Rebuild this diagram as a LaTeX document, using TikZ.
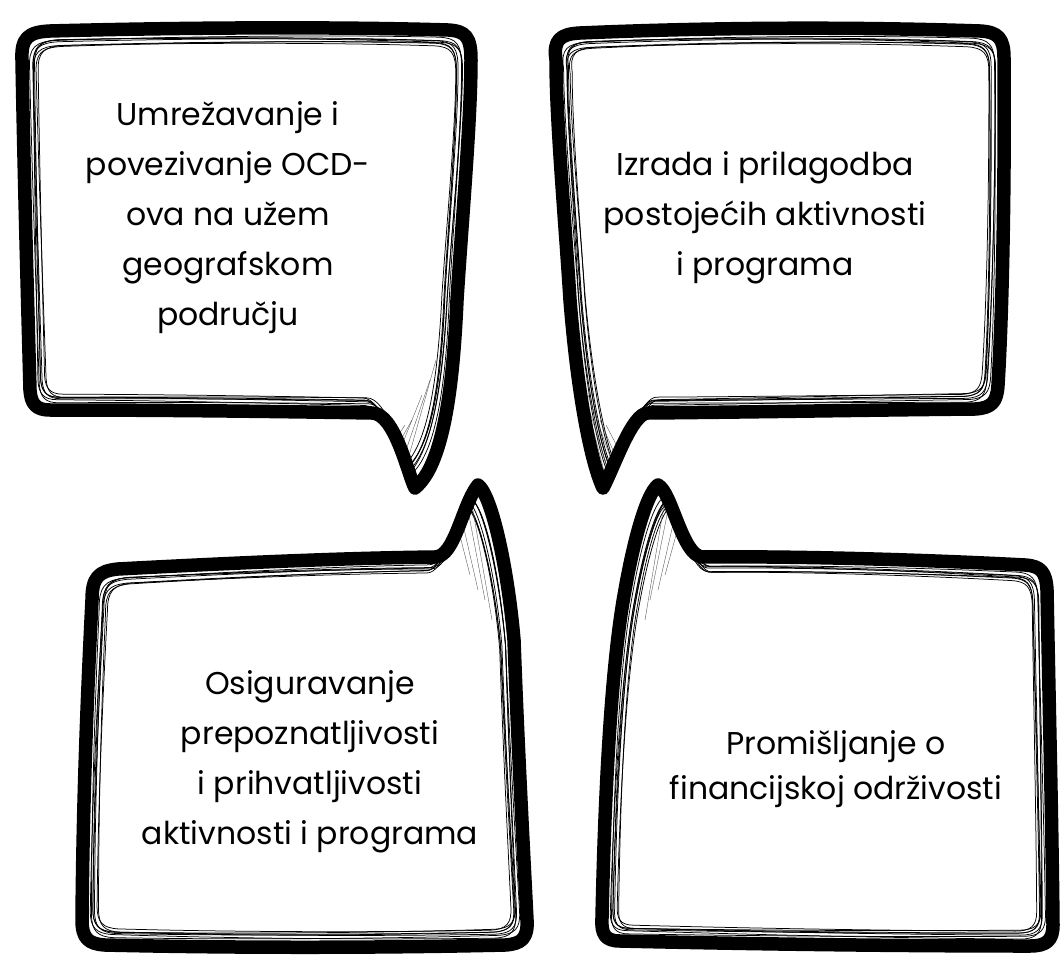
\documentclass[tikz,border=0pt]{standalone}
\usepackage{fontspec}
\setmainfont{Poppins}
\tikzset{
  outline/.style={line width=13.5pt, line join=round, line cap=round},
  sketch/.style={line width=0.75pt, line join=round},
  hatch/.style={line width=0.35pt, black!70},
  label/.style={align=center, inner sep=0pt}
}
\newcommand\bubpathA{(471,60) .. controls (471,120) and (462,220) .. (457,300)
 .. controls (453,390) and (443,465) .. (415,488)
 .. controls (408,475) and (395,413) .. (372,413)
 .. controls (250,411) and (150,410) .. (50,410)
 .. controls (36,410) and (31,404) .. (30,390)
 .. controls (27,280) and (24,170) .. (22,60)
 .. controls (21,38) and (28,32) .. (50,31)
 .. controls (200,27) and (350,27) .. (448,30)
 .. controls (466,31) and (471,37) .. (471,60) -- cycle}
\newcommand\bubpathB{(556,60) .. controls (553,40) and (560,34) .. (580,33)
 .. controls (720,27) and (860,27) .. (980,31)
 .. controls (998,32) and (1004,38) .. (1004,58)
 .. controls (1005,200) and (1002,320) .. (998,385)
 .. controls (997,402) and (992,408) .. (975,409)
 .. controls (870,410) and (760,412) .. (648,413)
 .. controls (632,413) and (615,465) .. (603,488)
 .. controls (592,465) and (578,400) .. (570,300)
 .. controls (565,220) and (556,120) .. (556,60) -- cycle}
\newcommand\bubpathC{(92,600) .. controls (92,578) and (98,571) .. (118,569)
 .. controls (250,562) and (350,558) .. (435,557)
 .. controls (455,557) and (462,505) .. (478,485)
 .. controls (492,495) and (508,570) .. (514,640)
 .. controls (518,750) and (524,860) .. (527,920)
 .. controls (528,938) and (522,944) .. (505,945)
 .. controls (380,948) and (230,948) .. (105,945)
 .. controls (88,944) and (82,938) .. (82,920)
 .. controls (83,800) and (87,700) .. (92,600) -- cycle}
\newcommand\bubpathD{(658,485) .. controls (672,492) and (682,555) .. (702,557)
 .. controls (800,556) and (930,560) .. (1025,565)
 .. controls (1041,566) and (1046,572) .. (1047,590)
 .. controls (1049,700) and (1052,820) .. (1053,925)
 .. controls (1053,940) and (1047,946) .. (1030,946)
 .. controls (900,946) and (750,944) .. (620,941)
 .. controls (605,941) and (601,934) .. (602,918)
 .. controls (605,780) and (612,660) .. (625,590)
 .. controls (632,550) and (645,495) .. (658,485) -- cycle}
\newcommand\sketchcopies[3]{%
  \foreach \sx/\sy/\rr/\dx/\dy in {0.962/0.956/0.35/0/0, 0.952/0.944/-0.3/1/-1, 0.942/0.932/0.2/-1/1, 0.956/0.950/-0.55/0/1, 0.936/0.926/0.45/1/0, 0.947/0.938/0.0/-1/-1, 0.930/0.920/-0.2/0/0}{
    \draw[sketch, shift={({#2+\dx},{#3+\dy})}, xscale=\sx, yscale=\sy, rotate=\rr, shift={({-#2},{-#3})}] #1;
  }%
}
\begin{document}
\begin{tikzpicture}[x=1pt, y=-1pt]
\fill[white] (0,0) rectangle (1060,958);
\useasboundingbox (0,0) rectangle (1060,958);

% sketchy inner strokes
\sketchcopies{\bubpathA}{246}{220}
\sketchcopies{\bubpathB}{780}{220}
\sketchcopies{\bubpathC}{305}{752}
\sketchcopies{\bubpathD}{828}{752}

% hatching near tails
\foreach \a/\b/\c/\d in {398/455/422/395, 402/462/430/380, 395/450/412/420, 405/470/436/360, 392/445/405/425}
  \draw[hatch] (\a,\b) -- (\c,\d);
\foreach \a/\b/\c/\d in {612/462/588/395, 608/470/580/380, 615/455/600/420, 605/475/575/360, 618/448/606/425}
  \draw[hatch] (\a,\b) -- (\c,\d);
\foreach \a/\b/\c/\d in {468/510/485/600, 462/520/478/590, 472/505/492/620, 458/528/470/575}
  \draw[hatch] (\a,\b) -- (\c,\d);
\foreach \a/\b/\c/\d in {668/510/650/600, 674/520/658/590, 664/505/645/620, 678/528/665/575}
  \draw[hatch] (\a,\b) -- (\c,\d);

% thick outlines
\draw[outline] \bubpathA;
\draw[outline] \bubpathB;
\draw[outline] \bubpathC;
\draw[outline] \bubpathD;

% texts
\node[label, font=\fontsize{31.5}{50}\selectfont] (tA) at (228,218)
  {Umrežavanje i\\povezivanje OCD-\\ova na užem\\geografskom\\području};
\node[label, font=\fontsize{31.5}{50}\selectfont] (tB) at (765,218)
  {Izrada i prilagodba\\postojećih aktivnosti\\i programa};
\node[label, font=\fontsize{31.5}{50}\selectfont] (tC) at (310,762)
  {Osiguravanje\\prepoznatljivosti\\i prihvatljivosti\\aktivnosti i programa};
\node[label, font=\fontsize{31.5}{45}\selectfont] (tD) at (836,769)
  {Promišljanje o\\financijskoj održivosti};
\end{tikzpicture}
\end{document}
